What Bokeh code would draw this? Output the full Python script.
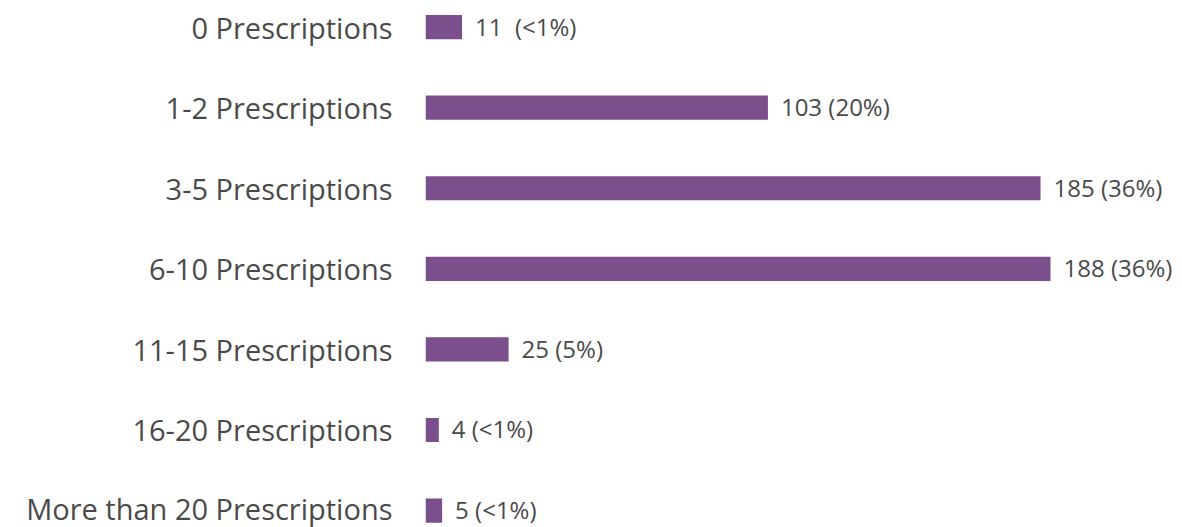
from bokeh.plotting import figure
from bokeh.models import ColumnDataSource, Range1d, FixedTicker
from bokeh.core.properties import value
from bokeh.embed import file_html
from bokeh.resources import INLINE

categories = ["0 Prescriptions", "1-2 Prescriptions", "3-5 Prescriptions",
              "6-10 Prescriptions", "11-15 Prescriptions", "16-20 Prescriptions",
              "More than 20 Prescriptions"]
counts = [11, 103, 185, 188, 25, 4, 5]
labels = ["11\u00a0 (<1%)", "103 (20%)", "185 (36%)", "188 (36%)", "25 (5%)", "4 (<1%)", "5 (<1%)"]

idx = list(range(len(categories)))
src = ColumnDataSource(dict(y=idx, count=counts, label=labels))

p = figure(width=1182, height=527, output_backend="svg", toolbar_location=None,
           x_range=Range1d(0, 227.7), y_range=Range1d(6.21, -0.33),
           min_border_left=425, min_border_right=0, min_border_top=0, min_border_bottom=0)
p.hbar(y="y", left=0, right="count", height=0.3, source=src,
       fill_color="#7B4F8C", line_color=None)
p.text(x="count", y="y", text="label", source=src, x_offset=13, y_offset=-1,
       text_baseline="middle", text_align="left", text_font=value("Open Sans"),
       text_font_size="24px", text_color="#4a4a4a")

p.xaxis.visible = False
p.yaxis.ticker = FixedTicker(ticks=idx)
p.yaxis.major_label_overrides = {i: c for i, c in zip(idx, categories)}
p.yaxis.major_label_text_font = "Open Sans"
p.yaxis.major_label_text_font_size = "29px"
p.yaxis.major_label_text_color = "#4a4a4a"
p.yaxis.major_label_standoff = 27
p.yaxis.axis_line_color = None
p.yaxis.major_tick_line_color = None
p.yaxis.minor_tick_line_color = None
p.xgrid.visible = False
p.ygrid.visible = False
p.outline_line_color = None

open("out.html", "w").write(file_html(p, INLINE))
